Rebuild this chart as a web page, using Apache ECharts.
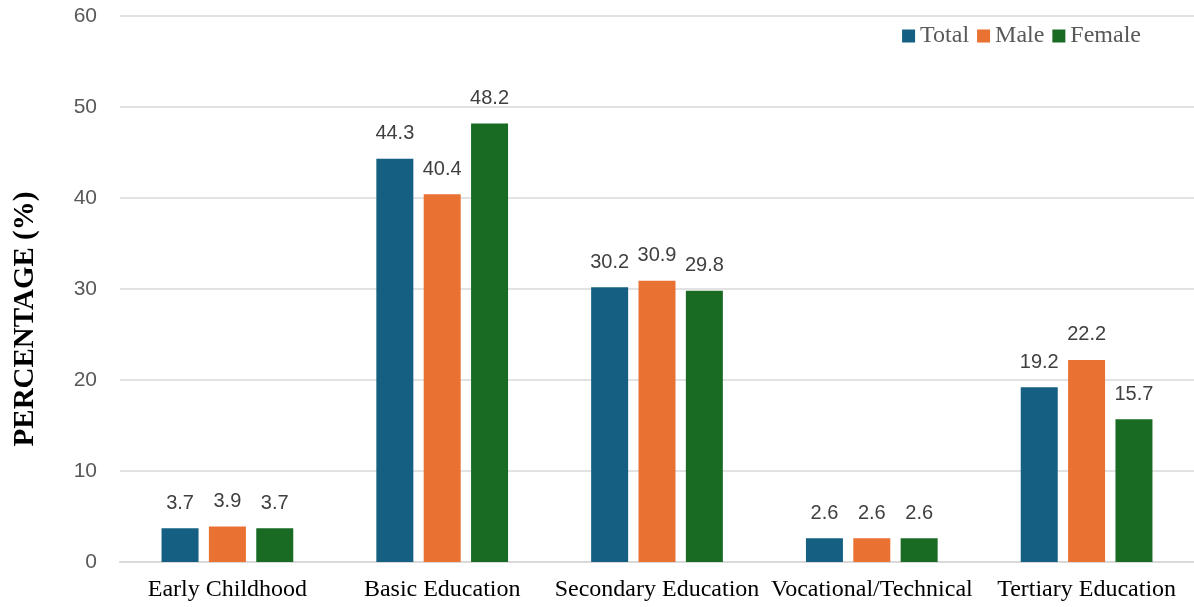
<!DOCTYPE html>
<html>
<head>
<meta charset="utf-8">
<script src="https://cdn.jsdelivr.net/npm/echarts@6/dist/echarts.min.js"></script>
<style>
  html, body { margin: 0; padding: 0; background: #ffffff; }
  #chart { width: 1194px; height: 607px; }
</style>
</head>
<body>
<div id="chart"></div>
<script>
// Education level categories and shares (%) by group
const categories = ['Early Childhood', 'Basic Education', 'Secondary Education', 'Vocational/Technical', 'Tertiary Education'];
const totalValues = [3.7, 44.3, 30.2, 2.6, 19.2];
const maleValues = [3.9, 40.4, 30.9, 2.6, 22.2];
const femaleValues = [3.7, 48.2, 29.8, 2.6, 15.7];
const yTicks = { min: 0, max: 60, interval: 10 };

const chart = echarts.init(document.getElementById('chart'));

const labelStyle = {
  show: true,
  position: 'top',
  distance: 15,
  color: '#404040',
  fontFamily: '"Liberation Sans", Arial, sans-serif',
  fontSize: 20
};

function barSeries(name, data, color) {
  return {
    name: name,
    type: 'bar',
    data: data,
    barWidth: 37,
    barGap: '28%',
    itemStyle: { color: color },
    label: labelStyle
  };
}

chart.setOption({
  animation: false,
  grid: { left: 120, right: -4, top: 16, bottom: 45, containLabel: false },
  legend: {
    top: 19,
    right: 48,
    itemWidth: 13,
    itemHeight: 13,
    itemGap: 8,
    icon: 'rect',
    textStyle: {
      color: '#595959',
      fontFamily: '"Liberation Serif", "Times New Roman", serif',
      fontSize: 24
    },
    data: ['Total', 'Male', 'Female']
  },
  xAxis: {
    type: 'category',
    data: categories,
    axisLine: { lineStyle: { color: '#d9d9d9', width: 2 } },
    axisTick: { show: false },
    axisLabel: {
      color: '#000000',
      fontFamily: '"Liberation Serif", "Times New Roman", serif',
      fontSize: 24,
      margin: 16,
      interval: 0
    }
  },
  yAxis: {
    type: 'value',
    min: yTicks.min,
    max: yTicks.max,
    interval: yTicks.interval,
    axisLine: { show: false },
    axisTick: { show: false },
    splitLine: { lineStyle: { color: '#d9d9d9', width: 1.5 } },
    axisLabel: {
      color: '#595959',
      fontFamily: '"Liberation Sans", Arial, sans-serif',
      fontSize: 21,
      margin: 23
    }
  },
  graphic: [{
    type: 'text',
    x: 26,
    y: 319,
    rotation: Math.PI / 2,
    style: {
      text: 'PERCENTAGE (%)',
      fill: '#000000',
      font: 'bold 29px "Liberation Serif", "Times New Roman", serif',
      textAlign: 'center',
      textVerticalAlign: 'middle'
    }
  }],
  series: [
    barSeries('Total', totalValues, '#156082'),
    barSeries('Male', maleValues, '#E97132'),
    barSeries('Female', femaleValues, '#196B24')
  ]
});
</script>
</body>
</html>
